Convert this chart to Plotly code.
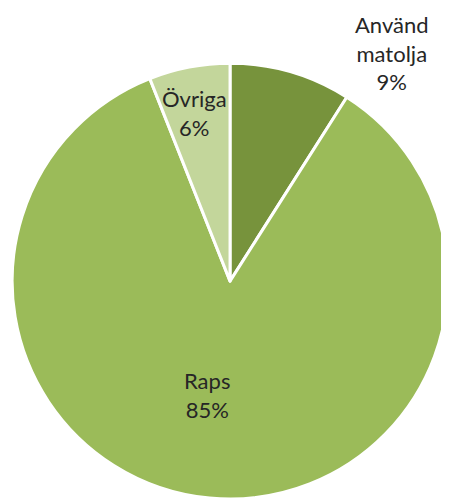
import plotly.graph_objects as go

# Data
labels = ["Använd<br>matolja", "Raps", "Övriga"]
values = [9, 85, 6]
colors = ["#77933C", "#9BBB59", "#C3D69B"]

# Label positions (paper coords) for the data labels
label_x = [0.855, 0.443, 0.416]
label_y = [0.910, 0.223, 0.789]

fig = go.Figure()

fig.add_trace(go.Pie(
    labels=labels,
    values=values,
    sort=False,
    direction='clockwise',
    rotation=0,
    marker=dict(colors=colors, line=dict(color='white', width=3)),
    textinfo='none',
    hoverinfo='label+percent',
    domain=dict(x=[0.009, 0.980], y=[0.014, 0.889]),
    showlegend=False,
))

total = sum(values)
for lab, val, lx, ly in zip(labels, values, label_x, label_y):
    fig.add_annotation(
        x=lx, y=ly, xref='paper', yref='paper',
        xanchor='center', yanchor='middle',
        text=f"{lab}<br>{round(100 * val / total)}%",
        showarrow=False,
        font=dict(family="Lato, Open Sans, sans-serif", size=22, color="#262626"),
        align='center',
    )

fig.update_layout(
    width=449, height=498,
    margin=dict(l=0, r=0, t=0, b=0),
    paper_bgcolor='white',
    plot_bgcolor='white',
)

fig.write_html("out.html")
